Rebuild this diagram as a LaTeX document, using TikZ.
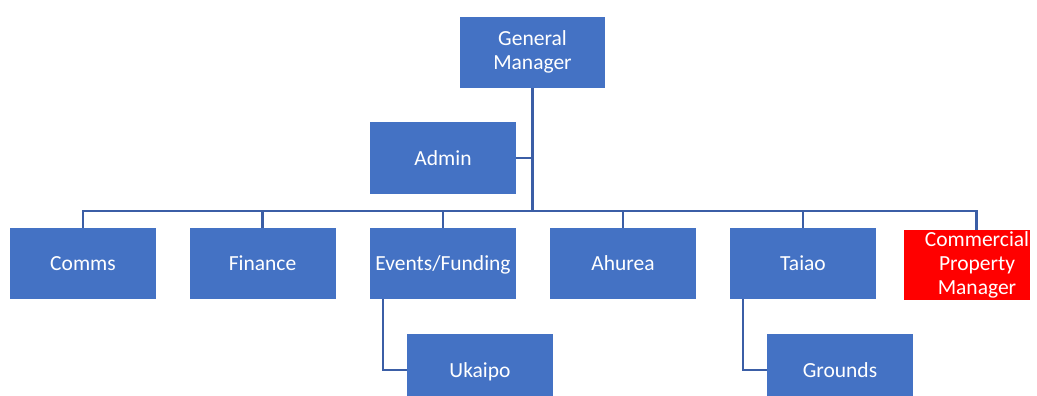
\documentclass[tikz,border=0pt]{standalone}
\usepackage{fontspec}
\setmainfont{Carlito}
\definecolor{boxblue}{HTML}{4472C4}
\definecolor{lineblue}{HTML}{3B5EA6}
\definecolor{boxred}{HTML}{FF0000}
\newcommand{\topstrut}{\rule{0pt}{18.5pt}}
\newcommand{\botstrut}{\rule[-4.5pt]{0pt}{4.5pt}}
\begin{document}
\begin{tikzpicture}[x=1pt,y=-1pt,
  txt/.style={text=white,align=center,inner sep=0pt,font=\fontsize{21.5}{24}\selectfont,execute at begin node=\topstrut,execute at end node=\botstrut},
  orgbox/.style={txt,draw=none,fill=boxblue,minimum width=146pt,minimum height=71pt},
  redbox/.style={orgbox,fill=boxred,minimum width=126pt,minimum height=70pt},
  conn/.style={draw=lineblue,line width=2.5pt}]
\useasboundingbox (0,0) rectangle (1037,396);
\clip (0,0) rectangle (1037,396);
\fill[white] (0,0) rectangle (1037,396);
\node[orgbox,minimum width=145pt] (gm) at (532.5,52.5) {General\\Manager};
\node[orgbox,minimum height=72pt] (adm) at (443,158) {Admin};
\node[orgbox] (comms) at (83,263.5) {Comms};
\node[orgbox] (fin) at (262.5,263.5) {Finance};
\node[orgbox] (ev) at (443,263.5) {Events/Funding};
\node[orgbox] (ah) at (623,263.5) {Ahurea};
\node[orgbox] (ta) at (803,263.5) {Taiao};
\node[redbox] (cpm) at (967,265) {};
\node[txt] (cpmt) at (977,265) {Commercial\\Property\\Manager};
\node[orgbox,minimum height=72pt] (uk) at (480,370) {Ukaipo};
\node[orgbox,minimum height=72pt] (gr) at (840,370) {Grounds};
\coordinate (bar) at (0,211);
\draw[conn] (gm.south) -- (gm.south |- bar);
\draw[conn] (adm.east) -- (adm.east -| gm.south);
\draw[conn] (comms.north) -- (comms.north |- bar) -| ([xshift=9.5pt]cpm.north);
\foreach \n in {fin,ev,ah,ta} \draw[conn] (\n.north) -- (\n.north |- bar);
\draw[conn] ([xshift=-60pt]ev.south) |- (uk.west);
\draw[conn] ([xshift=-60pt]ta.south) |- (gr.west);
\end{tikzpicture}
\end{document}
